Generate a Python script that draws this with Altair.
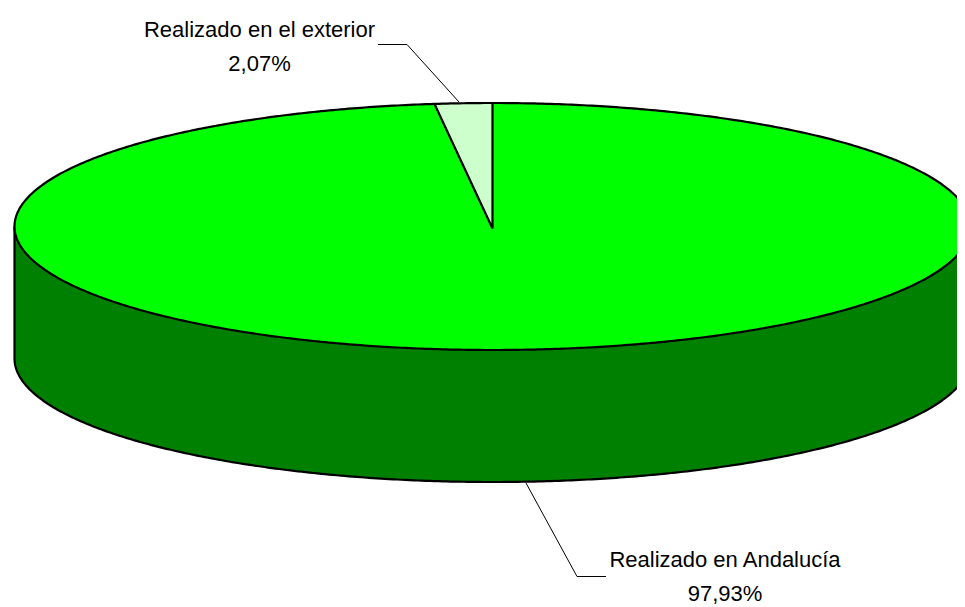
import numpy as np
import pandas as pd
import altair as alt

categories = ["Realizado en Andalucía", "Realizado en el exterior"]
shares = [97.93, 2.07]
share_labels = ["97,93%", "2,07%"]

# ellipse geometry in page pixel units (drawn through the x/y scales)
CX, CY, RX, RY, DEPTH = 492.5, 226.5, 478.0, 123.5, 132.0
PERSP = 0.935
W, H = 949, 598
TOP = "#00FF00"
WALL = "#008000"
PALE = "#CCFFCC"

xs = alt.Scale(domain=[8, 8 + W], range=[0, W], nice=False, zero=False)
ys = alt.Scale(domain=[8 + H, 8], range=[H, 0], nice=False, zero=False)
X = alt.X("px:Q", scale=xs, axis=None)
Y = alt.Y("py:Q", scale=ys, axis=None)
Y2 = alt.Y2("pb:Q")


def arc(t):
    return CX + RX * np.sin(t), CY - RY * np.cos(t)


t = np.linspace(-np.pi / 2, np.pi / 2, 361)
ex, ey = arc(t)
ey_low = 2 * CY - ey

top_df = pd.DataFrame({"px": ex, "py": ey, "pb": ey_low})
wall_df = pd.DataFrame({"px": ex, "py": ey_low, "pb": ey_low + DEPTH})

theta = np.radians(shares[1] / 100 * 360) * PERSP
tw = np.linspace(-theta, 0, 40)
wx, wy = arc(tw)
wedge_df = pd.DataFrame({
    "px": wx, "py": wy,
    "pb": CY + (wy[0] - CY) * (CX - wx) / (CX - wx[0]),
})

full = np.linspace(0, 2 * np.pi, 721)
fx, fy = arc(full)
ellipse_line = pd.DataFrame({"px": fx, "py": fy, "o": range(len(fx))})

low_x = ex
low_y = ey_low + DEPTH
wall_outline = pd.DataFrame({
    "px": np.r_[ex[0], low_x, ex[-1]],
    "py": np.r_[ey_low[0], low_y, ey_low[-1]],
})
wall_outline["o"] = range(len(wall_outline))

wedge_line = pd.DataFrame({
    "px": [wx[0], CX, CX],
    "py": [wy[0], CY + 2, CY - RY],
    "o": [0, 1, 2],
})

leader_ext = pd.DataFrame({"px": [378, 407, 459], "py": [44.5, 44.5, 102], "o": [0, 1, 2]})
leader_and = pd.DataFrame({"px": [526, 577, 606], "py": [483, 576.5, 576.5], "o": [0, 1, 2]})

texts = pd.DataFrame({
    "px": [259.5, 259.5, 725, 725],
    "py": [37, 71, 567, 601],
    "t": [categories[1], share_labels[1], categories[0], share_labels[0]],
})


def area(df, color):
    return alt.Chart(df).mark_area(fill=color, interpolate="linear").encode(x=X, y=Y, y2=Y2)


def line(df, width, color="#000000"):
    return alt.Chart(df).mark_line(color=color, strokeWidth=width, interpolate="linear").encode(
        x=X, y=Y, order="o:Q")


labels = alt.Chart(texts).mark_text(
    font="Liberation Sans", fontSize=22, color="#000000", align="center", baseline="alphabetic"
).encode(x=X, y=Y, text="t:N")

chart = alt.layer(
    area(wall_df, WALL),
    line(wall_outline, 2.2),
    area(top_df, TOP),
    area(wedge_df, PALE),
    line(ellipse_line, 2.2),
    line(wedge_line, 2.2),
    line(leader_ext, 1),
    line(leader_and, 1),
    labels,
).properties(width=W, height=H, padding=0, autosize=alt.AutoSizeParams(type="none"), background="#FFFFFF"
).configure_view(stroke=None)

chart.save("out.html", embed_options={"renderer": "svg", "actions": False})
